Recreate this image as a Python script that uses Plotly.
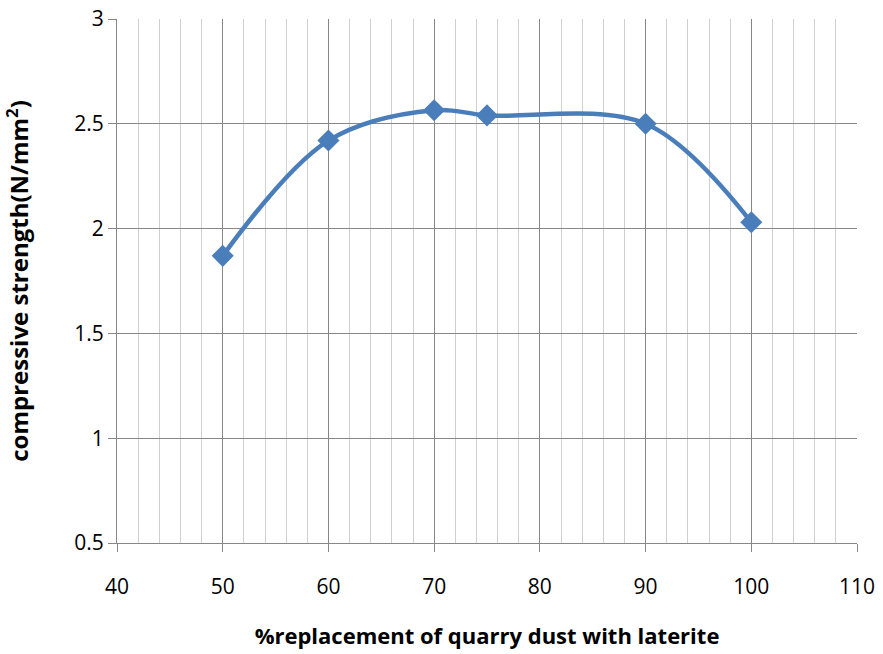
import plotly.graph_objects as go

x_vals = [50, 60, 70, 75, 90, 100]
y_vals = [1.87, 2.42, 2.565, 2.54, 2.5, 2.03]
x_title = "%replacement of quarry dust with laterite"
y_title = "compressive strength(N/mm<sup>2</sup>)"

fig = go.Figure()
fig.add_trace(go.Scatter(
    x=x_vals, y=y_vals, mode="lines+markers",
    line=dict(color="#4a7ebb", width=4.5, shape="spline", smoothing=1.0),
    marker=dict(symbol="diamond", size=17, color="#4a7ebb"),
    showlegend=False,
))

font_family = "Open Sans, Liberation Sans, sans-serif"
fig.update_layout(
    width=883, height=654,
    margin=dict(l=117, r=26, t=19, b=111),
    paper_bgcolor="white", plot_bgcolor="white",
    font=dict(family=font_family, size=21, color="black"),
    xaxis=dict(
        range=[40, 110], dtick=10, tick0=40,
        showgrid=True, gridcolor="#878787", gridwidth=1,
        minor=dict(dtick=2, showgrid=True, gridcolor="#d0d0d0", gridwidth=1, ticks=""),
        ticks="outside", ticklen=8, tickcolor="#878787",
        ticklabelstandoff=17, ticklabeloverflow="allow",
        showline=True, linecolor="#878787", linewidth=1,
        zeroline=False, automargin=False,
        title=dict(text=x_title, font=dict(size=22, family=font_family, weight="bold"), standoff=29),
        tickfont=dict(size=21),
    ),
    yaxis=dict(
        range=[0.5, 3], dtick=0.5, tick0=0.5,
        showgrid=True, gridcolor="#878787", gridwidth=1,
        ticks="outside", ticklen=8, tickcolor="#878787",
        ticklabeloverflow="allow",
        showline=True, linecolor="#878787", linewidth=1,
        zeroline=False, automargin=False,
        title=dict(text=y_title, font=dict(size=24, family=font_family, weight="bold"), standoff=50),
        tickfont=dict(size=21),
    ),
)
fig.write_html("out.html", config={"displayModeBar": False},
               post_script="document.body.style.margin='0';document.body.style.overflow='hidden';")
